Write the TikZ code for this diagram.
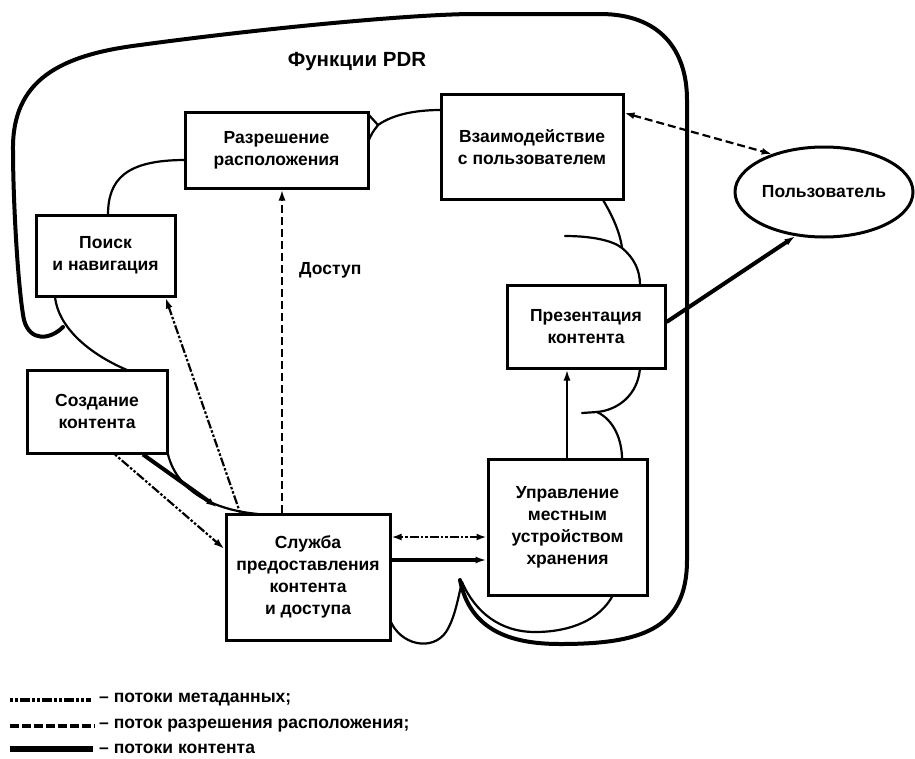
\documentclass[tikz,border=0pt]{standalone}
\usepackage{fontspec}
\setmainfont{Liberation Sans}
\usetikzlibrary{arrows.meta,shapes.geometric,calc}
\begin{document}
\begin{tikzpicture}[x=1pt,y=-1pt,
  txt/.style={font=\fontsize{17.5}{22}\selectfont\bfseries},
  box/.style={draw, line width=3pt, align=center, txt, inner sep=0pt},
  cloudline/.style={line width=2.2pt, line cap=round},
  outerline/.style={line width=4pt, line cap=round, line join=round},
  meta/.style={line width=2.2pt, dash pattern=on 2.5pt off 2pt on 2.5pt off 2pt on 9pt off 2pt},
  loc/.style={line width=2.2pt, dash pattern=on 8pt off 4pt},
  content/.style={line width=4pt},
  tip/.style={-{Latex[length=11pt,width=7pt]}},
  dtip/.style={{Latex[length=10pt,width=7pt]}-{Latex[length=10pt,width=7pt]}},
]
\useasboundingbox (0,0) rectangle (915,758);

% nodes
\node[box, minimum width=183pt, minimum height=76pt] (razr) at (276.5,150) {Разрешение\\расположения};
\node[box, minimum width=139pt, minimum height=81pt] (poisk) at (105.5,255.5) {Поиск\\и навигация};
\node[box, minimum width=182pt, minimum height=105pt] (vzaim) at (532,147) {Взаимодействие\\с пользователем};
\node[ellipse, draw, line width=3pt, minimum width=178pt, minimum height=90pt, inner sep=0pt, txt] (polz) at (824,192) {Пользователь};
\node[box, minimum width=158pt, minimum height=83pt] (prez) at (586,326.5) {Презентация\\контента};
\node[box, minimum width=140pt, minimum height=83pt] (sozd) at (97,411.5) {Создание\\контента};
\node[box, minimum width=164pt, minimum height=126pt] (sluzh) at (308,577) {Служба\\предоставления\\контента\\и доступа};
\node[box, minimum width=159pt, minimum height=136pt] (upr) at (567.5,527) {Управление\\местным\\устройством\\хранения};

\node[font=\fontsize{20.5}{24}\selectfont\bfseries] (title) at (357,62) {Функции PDR};
\node[txt, anchor=west, inner sep=0pt] (dostup) at (299,270) {Доступ};

% outer boundary
\draw[outerline] (63,327) .. controls (50,340) and (30,342) .. (24,320)
  .. controls (18,290) and (13,200) .. (13,150)
  .. controls (12,80) and (60,55) .. (140,45)
  .. controls (250,30) and (400,15) .. (470,14)
  -- (600,14)
  .. controls (660,14) and (687,50) .. (687,100)
  -- (687,560)
  .. controls (687,630) and (640,644) .. (560,644)
  .. controls (510,644) and (470,630) .. (460,580);

% cloud arcs
\draw[cloudline] (108,215) .. controls (108,180) and (125,160) .. (185,160);
\draw[cloudline] (368,114) -- (378,125);
\draw[cloudline] (368,142) .. controls (372,133) .. (378,125) .. controls (395,113) and (420,110) .. (441,110);
\draw[cloudline] (603,200) .. controls (612,215) and (620,232) .. (622,248);
\draw[cloudline] (565,236) .. controls (590,236) and (612,240) .. (622,248) .. controls (634,258) and (640,270) .. (640,285);
\draw[cloudline] (640,368) .. controls (638,395) and (618,410) .. (597,412);
\draw[cloudline] (582,413) -- (597,412) .. controls (614,420) and (622,440) .. (622,459);
\draw[cloudline] (613,595) .. controls (600,620) and (570,632) .. (535,632) .. controls (500,632) and (475,612) .. (462,582);
\draw[cloudline] (390,620) .. controls (400,645) and (432,652) .. (446,632) .. controls (455,618) and (458,598) .. (462,582);
\draw[cloudline] (167,450) .. controls (175,492) and (215,510) .. (258,514);
\draw[cloudline] (55,297) .. controls (58,325) and (85,352) .. (127,370);

% connectors
\draw[loc, tip] (sluzh.north -| 282,0) -- (razr.south -| 282,0);
\draw[meta, tip] ([xshift=-68pt]sluzh.north) -- ([xshift=60pt]poisk.south);
\draw[content, tip, shorten >=9pt] ([xshift=46pt]sozd.south) -- (sluzh.north west);
\draw[meta, tip] ([xshift=18pt]sozd.south) -- ([yshift=28pt]sluzh.west);
\draw[meta, dtip] (sluzh.east |- 0,537) -- (upr.west |- 0,537);
\draw[content, tip] (sluzh.east |- 0,560) -- (upr.west |- 0,560);
\draw[cloudline, tip] (upr.north -| 567,0) -- (prez.south -| 567,0);
\draw[content, tip] (prez.east |- 0,322) -- (polz.237);
\draw[loc, dtip] (vzaim.east |- 0,113) -- (polz.144);

% legend
\node[txt, anchor=west, inner sep=0pt] (l1) at (99,700) {– потоки метаданных;};
\node[txt, anchor=west, inner sep=0pt] (l2) at (99,726) {– поток разрешения расположения;};
\node[txt, anchor=west, inner sep=0pt] (l3) at (99,749) {– потоки контента};
\coordinate (m1) at (10,700);
\coordinate (m2) at (10,726);
\coordinate (m3) at (10,749);
\draw[line width=3.5pt, dash pattern=on 3pt off 2pt on 3pt off 2pt on 10pt off 2pt] (m1) -- ([xshift=-8pt]l1.west);
\draw[line width=3.5pt, dash pattern=on 9pt off 3pt] (m2) -- ([xshift=-4pt]l2.west);
\draw[line width=5.5pt] (m3) -- ([xshift=-6pt]l3.west);
\end{tikzpicture}
\end{document}
